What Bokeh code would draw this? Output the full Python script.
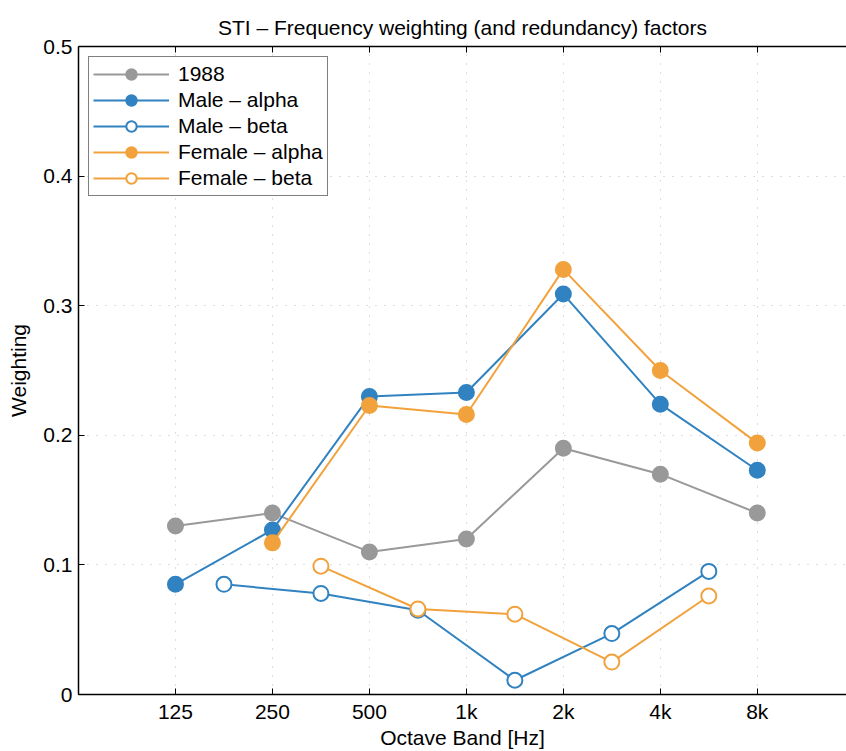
from bokeh.plotting import figure
from bokeh.models import (Range1d, FixedTicker, LinearAxis, Legend, LegendItem)
from bokeh.embed import file_html
from bokeh.resources import INLINE

# ---- data ----
band_labels = ["125", "250", "500", "1k", "2k", "4k", "8k"]
y_ticks = [0, 0.1, 0.2, 0.3, 0.4, 0.5]

w1988 = [0.13, 0.14, 0.11, 0.12, 0.19, 0.17, 0.14]
male_alpha = [0.085, 0.127, 0.230, 0.233, 0.309, 0.224, 0.173]
male_beta = [0.085, 0.078, 0.065, 0.011, 0.047, 0.095]          # between bands 125/250 ... 4k/8k
female_alpha = [0.117, 0.223, 0.216, 0.328, 0.250, 0.194]       # 250 ... 8k
female_beta = [0.099, 0.066, 0.062, 0.025, 0.076]               # between 250/500 ... 4k/8k

band_x = list(range(1, len(band_labels) + 1))
mid_x = [b + 0.5 for b in band_x[:-1]]

GRAY = "#999999"
BLUE = "#3182c0"
ORANGE = "#f2a23c"
FONT = "Liberation Sans"
FS = "21px"

p = figure(frame_width=768, frame_height=648, output_backend="svg", toolbar_location=None,
           x_range=Range1d(0, 7.92), y_range=Range1d(0, 0.5),
           title="STI \u2013 Frequency weighting (and redundancy) factors",
           min_border_left=78, min_border_right=0, min_border_top=46, min_border_bottom=40)

p.outline_line_color = None
p.background_fill_color = "white"
p.border_fill_color = "white"

p.title.text_font = FONT
p.title.text_font_size = FS
p.title.text_font_style = "normal"
p.title.align = "center"
p.title.text_color = "black"
p.title.standoff = 16

# axes
p.xaxis.ticker = FixedTicker(ticks=band_x)
p.xaxis.major_label_overrides = {b: lab for b, lab in zip(band_x, band_labels)}
p.yaxis.ticker = FixedTicker(ticks=y_ticks)
p.yaxis.major_label_overrides = {0: "0"}
p.xaxis.axis_label = "Octave Band [Hz]"
p.yaxis.axis_label = "Weighting"
for ax in (p.xaxis[0], p.yaxis[0]):
    ax.major_tick_in = 6
    ax.major_tick_out = 0
    ax.minor_tick_in = 0
    ax.minor_tick_out = 0
    ax.axis_line_color = "black"
    ax.axis_line_width = 1.5
    ax.major_tick_line_color = "black"
    ax.major_tick_line_width = 1
    ax.major_label_text_font = FONT
    ax.major_label_text_font_size = FS
    ax.major_label_text_color = "black"
    ax.axis_label_text_font = FONT
    ax.axis_label_text_font_size = FS
    ax.axis_label_text_font_style = "normal"
    ax.axis_label_text_color = "black"
p.xaxis.major_label_standoff = 5
p.xaxis.axis_label_standoff = 0
p.yaxis.major_label_standoff = 6
p.yaxis.axis_label_standoff = 10

top = LinearAxis(ticker=FixedTicker(ticks=band_x),
                 major_label_overrides={b: "" for b in band_x},
                 major_tick_in=6, major_tick_out=0, minor_tick_in=0, minor_tick_out=0,
                 axis_line_color="black", axis_line_width=1.5, major_label_standoff=0)
p.add_layout(top, "above")

# grid
for g in (p.xgrid[0], p.ygrid[0]):
    g.grid_line_color = "#bdbdbd"
    g.grid_line_dash = "1 8"
    g.grid_line_width = 1
p.xgrid.ticker = FixedTicker(ticks=band_x)
p.ygrid.ticker = FixedTicker(ticks=[0.1, 0.2, 0.3, 0.4])

# series
def series(xs, ys, color, filled):
    l = p.line(xs, ys, line_color=color, line_width=2)
    s = p.scatter(xs, ys, size=15, line_color=color, line_width=2,
                  fill_color=color if filled else "white")
    return [l, s]

r1 = series(band_x, w1988, GRAY, True)
r2 = series(band_x, male_alpha, BLUE, True)
r3 = series(mid_x, male_beta, BLUE, False)
r4 = series(band_x[1:], female_alpha, ORANGE, True)
r5 = series(mid_x[1:], female_beta, ORANGE, False)

legend = Legend(items=[
    LegendItem(label="1988", renderers=r1),
    LegendItem(label="Male \u2013 alpha", renderers=r2),
    LegendItem(label="Male \u2013 beta", renderers=r3),
    LegendItem(label="Female \u2013 alpha", renderers=r4),
    LegendItem(label="Female \u2013 beta", renderers=r5),
], location="top_left")
legend.margin = 10
legend.padding = 4
legend.spacing = 0
legend.glyph_width = 76
legend.glyph_height = 26
legend.label_height = 20
legend.label_standoff = 9
legend.label_text_font = FONT
legend.label_text_font_size = FS
legend.label_text_color = "black"
legend.border_line_color = "black"
legend.border_line_width = 1
legend.background_fill_color = "white"
legend.background_fill_alpha = 1
p.add_layout(legend, "center")

open("out.html", "w").write(file_html(p, INLINE))
